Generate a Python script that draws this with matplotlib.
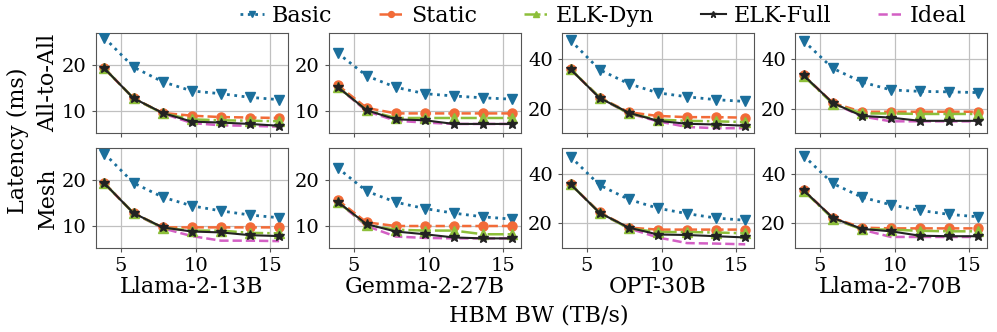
import matplotlib
matplotlib.use("Agg")
import matplotlib.pyplot as plt

plt.rcParams["font.family"] = "DejaVu Serif"

# HBM bandwidth sweep (TB/s)
bw = [3.9, 5.85, 7.8, 9.75, 11.7, 13.65, 15.6]

models = ["Llama-2-13B", "Gemma-2-27B", "OPT-30B", "Llama-2-70B"]
topos = ["All-to-All", "Mesh"]
methods = ["Basic", "Static", "ELK-Dyn", "ELK-Full", "Ideal"]

# latency (ms), [topology][model][method]
a2a_llama13 = [
    [26.0, 19.6, 16.4, 14.4, 13.8, 13.0, 12.5],
    [19.3, 12.8, 9.6, 9.0, 8.7, 8.6, 8.5],
    [19.3, 12.8, 9.5, 8.2, 8.0, 7.9, 7.8],
    [19.3, 12.8, 9.6, 7.7, 7.5, 7.2, 6.8],
    [19.3, 12.8, 9.5, 7.4, 6.9, 6.8, 6.6],
]
a2a_gemma27 = [
    [22.7, 17.7, 15.2, 13.8, 13.3, 12.9, 12.6],
    [15.7, 10.7, 9.5, 9.5, 9.5, 9.5, 9.5],
    [15.3, 10.2, 8.5, 8.5, 8.5, 8.5, 8.5],
    [15.3, 10.2, 8.2, 8.0, 7.2, 7.2, 7.2],
    [15.3, 10.0, 7.9, 7.5, 7.2, 7.2, 7.2],
]
a2a_opt30 = [
    [47.8, 35.8, 30.1, 26.4, 24.8, 23.6, 22.9],
    [36.0, 24.5, 18.5, 17.0, 16.5, 16.5, 16.3],
    [36.0, 24.5, 18.0, 15.5, 15.0, 14.8, 14.5],
    [36.0, 24.3, 18.3, 15.0, 13.8, 13.5, 13.0],
    [36.0, 24.3, 18.0, 14.8, 12.5, 12.0, 12.0],
]
a2a_llama70 = [
    [47.6, 36.4, 30.8, 27.6, 27.0, 26.8, 26.5],
    [33.5, 22.3, 18.7, 18.7, 18.7, 18.7, 18.7],
    [33.3, 22.0, 18.0, 18.0, 17.8, 17.8, 17.8],
    [33.5, 22.3, 17.0, 16.3, 15.0, 15.0, 15.0],
    [33.5, 22.3, 16.8, 14.8, 14.8, 14.8, 14.8],
]
mesh_llama13 = [
    [25.8, 19.4, 16.3, 14.4, 13.3, 12.4, 11.8],
    [19.3, 12.8, 9.7, 9.7, 9.7, 9.7, 9.7],
    [19.3, 12.8, 9.6, 9.0, 9.0, 8.5, 8.4],
    [19.3, 12.8, 9.7, 8.8, 8.6, 8.0, 7.8],
    [19.3, 12.8, 9.5, 7.8, 6.8, 6.8, 6.7],
]
mesh_gemma27 = [
    [22.7, 17.6, 15.2, 13.8, 12.8, 12.0, 11.5],
    [15.7, 10.8, 10.0, 10.0, 10.0, 10.0, 10.0],
    [15.3, 10.2, 9.2, 9.0, 9.0, 8.2, 8.2],
    [15.3, 10.4, 8.8, 8.2, 7.5, 7.3, 7.3],
    [15.3, 10.0, 7.7, 7.4, 7.3, 7.3, 7.3],
]
mesh_opt30 = [
    [47.2, 35.6, 29.8, 26.2, 24.0, 22.2, 21.3],
    [36.0, 24.5, 18.3, 17.5, 17.5, 17.5, 17.5],
    [36.0, 24.3, 18.0, 16.5, 16.5, 16.3, 16.0],
    [36.0, 24.3, 18.3, 15.5, 15.3, 14.8, 14.3],
    [36.0, 24.3, 18.0, 14.3, 12.0, 11.8, 11.5],
]
mesh_llama70 = [
    [47.6, 36.3, 30.7, 27.6, 25.3, 23.7, 22.7],
    [33.5, 22.3, 18.3, 18.0, 18.0, 18.0, 18.0],
    [33.3, 22.0, 17.6, 17.5, 17.0, 16.8, 16.8],
    [33.5, 22.3, 17.8, 16.8, 15.0, 14.8, 14.8],
    [33.5, 22.3, 17.5, 14.5, 14.5, 14.5, 14.5],
]

data = [
    [a2a_llama13, a2a_gemma27, a2a_opt30, a2a_llama70],
    [mesh_llama13, mesh_gemma27, mesh_opt30, mesh_llama70],
]

styles = {
    "Basic":    dict(color="#1b6f9c", ls=":",  marker="v", ms=7, lw=2.0),
    "Static":   dict(color="#f26b38", ls="--", marker="o", ms=6.5, lw=1.8),
    "ELK-Dyn":  dict(color="#8dbf3a", ls="-.", marker="^", ms=6.5, lw=1.8),
    "ELK-Full": dict(color="#222222", ls="-",  marker="*", ms=7, lw=1.5),
    "Ideal":    dict(color="#d35fc4", ls="--", marker=None, lw=1.8),
}
zorders = {"Basic": 3, "Static": 3, "Ideal": 2, "ELK-Dyn": 4, "ELK-Full": 5}

ylims = [(5.2, 27.0), (5.2, 27.0), (10.0, 50.7), (10.0, 50.7)]
yticks = [[10, 20], [10, 20], [20, 40], [20, 40]]

fig, axes = plt.subplots(2, 4, figsize=(9.97, 3.32), sharex=True)
fig.subplots_adjust(left=0.096, right=0.99, top=0.9, bottom=0.253,
                    wspace=0.213, hspace=0.15)

for r in range(2):
    for c in range(4):
        ax = axes[r, c]
        for k, m in enumerate(methods):
            ax.plot(bw, data[r][c][k], label=m, zorder=zorders[m], **styles[m])
        ax.set_ylim(*ylims[c])
        ax.set_yticks(yticks[c])
        ax.set_xticks([5, 10, 15])
        ax.grid(True, color="#c0c0c0", lw=0.9)
        ax.set_axisbelow(True)
        ax.tick_params(labelsize=14, length=3, color="#555555")
        for s in ax.spines.values():
            s.set_color("#555555")
        if c == 0:
            ax.set_ylabel(topos[r], fontsize=16, labelpad=2)
        if r == 1:
            ax.set_xlabel(models[c], fontsize=16, labelpad=1)

handles, labels = axes[0, 0].get_legend_handles_labels()
fig.legend(handles, labels, loc="upper center", bbox_to_anchor=(0.605, 1.045),
           ncol=5, frameon=False, fontsize=16, handlelength=1.1,
           handletextpad=0.35, columnspacing=2.1, markerscale=0.65)

fig.text(0.018, 0.575, "Latency (ms)", rotation=90, ha="center", va="center",
         fontsize=16)
fig.text(0.54, 0.05, "HBM BW (TB/s)", ha="center", va="center", fontsize=16)

fig.savefig("out.png", dpi=100)
